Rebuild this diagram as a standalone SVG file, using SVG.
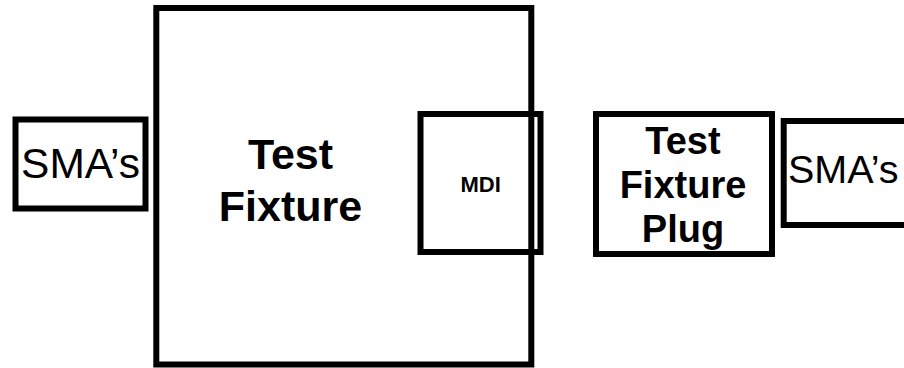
<svg xmlns="http://www.w3.org/2000/svg" width="904" height="368" viewBox="0 0 904 368">
<style>
.box{fill:#fff;stroke:#000;stroke-width:6}
.b{font-family:"Liberation Sans",Arial,sans-serif;font-weight:bold;fill:#000;text-anchor:middle}
.r{font-family:"Liberation Sans",Arial,sans-serif;fill:#000}
</style>
<rect width="904" height="368" fill="#fff"/>
<g id="sma-left">
<rect class="box" x="15.5" y="119.5" width="130" height="89"/>
<text class="r" x="80.5" y="178" font-size="42.5" text-anchor="middle">SMA’s</text>
</g>
<g id="test-fixture">
<rect class="box" x="156.3" y="8" width="375" height="356.5" fill="none"/>
<text class="b" x="290.5" y="169" font-size="43">Test</text>
<text class="b" x="290.5" y="221" font-size="43">Fixture</text>
</g>
<g id="mdi">
<rect x="420.5" y="114" width="120" height="138" fill="none" stroke="#000" stroke-width="6"/>
<text class="b" x="480.6" y="192" font-size="22">MDI</text>
</g>
<g id="plug">
<rect class="box" x="596" y="114" width="176" height="140"/>
<text class="b" x="683" y="154" font-size="38">Test</text>
<text class="b" x="683" y="198" font-size="38">Fixture</text>
<text class="b" x="683" y="242" font-size="38">Plug</text>
</g>
<g id="sma-right">
<rect class="box" x="783.7" y="121" width="140" height="104"/>
<text class="r" x="788" y="183" font-size="39.5">SMA’s</text>
</g>
<g id="connectors"></g>
</svg>
